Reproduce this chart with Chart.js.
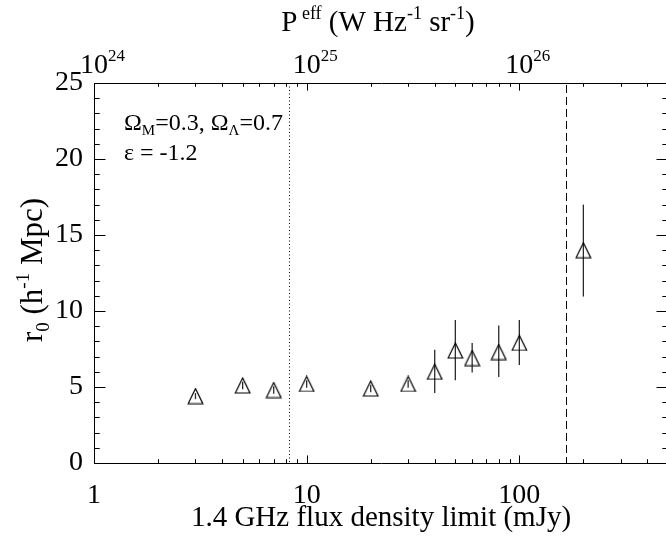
<!DOCTYPE html>
<html><head><meta charset="utf-8">
<script src="https://cdn.jsdelivr.net/npm/chart.js@4/dist/chart.umd.min.js"></script>
<style>html,body{margin:0;padding:0;background:#fff;overflow:hidden}</style>
</head><body>
<canvas id="c" width="680" height="540" style="display:block"></canvas>
<script>
// ---- data ----
const fluxLimits = [3, 5, 7, 10, 20, 30, 40, 50, 60, 80, 100, 200];          // mJy
const r0Values   = [4.4, 5.1, 4.8, 5.2, 4.9, 5.2, 6.0, 7.4, 6.9, 7.3, 7.9, 14.0];
const r0Lower    = [4.2, 4.85, 4.55, 4.95, 4.65, 4.95, 4.6, 5.45, 5.95, 5.65, 6.45, 10.95];
const r0Upper    = [4.6, 5.35, 5.05, 5.45, 5.15, 5.45, 7.45, 9.4, 7.9, 9.05, 9.4, 17.0];
const dottedLineFlux = 8.3;
const dashedLineFlux = 165;
const yTickValues = [0, 5, 10, 15, 20, 25];
const bottomTickLabels = ['1', '10', '100'];
const topTickExponents = [24, 25, 26];

const FONT = '"Liberation Serif", "Times New Roman", serif';

function makeTriangle() {
  const c = document.createElement('canvas');
  c.width = 17; c.height = 17;
  const g = c.getContext('2d');
  g.strokeStyle = '#000'; g.lineWidth = 1.2;
  g.beginPath();
  g.moveTo(1.2, 16); g.lineTo(8.5, 1); g.lineTo(15.8, 16); g.closePath();
  g.stroke();
  return c;
}

function drawRich(ctx, parts, x, y, size, align) {
  const fontFor = k => ((k === 'n') ? size : Math.round(size * 0.62)) + 'px ' + FONT;
  let w = 0;
  for (const [t, k] of parts) { ctx.font = fontFor(k); w += ctx.measureText(t).width; }
  let cx = align === 'center' ? x - w / 2 : (align === 'right' ? x - w : x);
  ctx.textAlign = 'left'; ctx.textBaseline = 'alphabetic';
  for (const [t, k] of parts) {
    ctx.font = fontFor(k);
    const dy = k === 'sup' ? -0.42 * size : (k === 'sub' ? 0.22 * size : 0);
    ctx.fillText(t, cx, y + dy);
    cx += ctx.measureText(t).width;
  }
}

const decor = {
  id: 'decor',
  beforeDatasetsDraw(chart) {
    const ctx = chart.ctx, a = chart.chartArea;
    const xs = chart.scales.x, ys = chart.scales.y;
    ctx.save();
    ctx.strokeStyle = '#000'; ctx.lineWidth = 1;
    ctx.setLineDash([1, 2.5]);
    let px = Math.round(xs.getPixelForValue(dottedLineFlux)) + 0.5;
    ctx.beginPath(); ctx.moveTo(px, a.top); ctx.lineTo(px, a.bottom); ctx.stroke();
    ctx.setLineDash([8, 4]);
    px = Math.round(xs.getPixelForValue(dashedLineFlux)) + 0.5;
    ctx.beginPath(); ctx.moveTo(px, a.top + 2); ctx.lineTo(px, a.bottom); ctx.stroke();
    ctx.setLineDash([]);
    ctx.strokeStyle = '#2a2a2a'; ctx.lineWidth = 1.3;
    for (let i = 0; i < fluxLimits.length; i++) {
      const x = xs.getPixelForValue(fluxLimits[i]);
      ctx.beginPath();
      ctx.moveTo(x, ys.getPixelForValue(r0Lower[i]));
      ctx.lineTo(x, ys.getPixelForValue(r0Upper[i]));
      ctx.stroke();
    }
    ctx.restore();
  },
  afterDraw(chart) {
    const ctx = chart.ctx, a = chart.chartArea;
    const xs = chart.scales.x, xt = chart.scales.x2, ys = chart.scales.y;
    ctx.save();
    ctx.strokeStyle = '#000'; ctx.lineWidth = 1;
    const xMaj = 7.6, xMin = 3.8, yMaj = 11.5, yMin = 5.7;
    for (let d = 0; d <= 2; d++) {
      for (let m = 1; m <= 9; m++) {
        const v = m * Math.pow(10, d);
        if (v > xs.max) break;
        const len = m === 1 ? xMaj : xMin;
        const x = Math.round(xs.getPixelForValue(v)) + 0.5;
        ctx.beginPath(); ctx.moveTo(x, a.bottom); ctx.lineTo(x, a.bottom - len); ctx.stroke();
        const xx = Math.round(xt.getPixelForValue(v * 1e24)) + 0.5;
        ctx.beginPath(); ctx.moveTo(xx, a.top); ctx.lineTo(xx, a.top + len); ctx.stroke();
      }
    }
    for (let v = 0; v <= 25; v++) {
      const len = v % 5 === 0 ? yMaj : yMin;
      const y = Math.round(ys.getPixelForValue(v)) + 0.5;
      ctx.beginPath(); ctx.moveTo(a.left, y); ctx.lineTo(a.left + len, y); ctx.stroke();
      ctx.beginPath(); ctx.moveTo(a.right, y); ctx.lineTo(a.right - len, y); ctx.stroke();
    }
    ctx.fillStyle = '#000';
    for (const e of topTickExponents) {
      const x = xt.getPixelForValue(Math.pow(10, e));
      ctx.font = '28px ' + FONT;
      const w10 = ctx.measureText('10').width;
      drawRich(ctx, [['10', 'n'], [String(e), 'sup']], x - w10 / 2, 73, 28, 'left');
    }
    drawRich(ctx, [['P', 'n'], [' eff', 'sup'], [' (W Hz', 'n'], ['-1', 'sup'], [' sr', 'n'], ['-1', 'sup'], [')', 'n']],
             378, 31, 29, 'center');
    drawRich(ctx, [['1.4 GHz flux density limit (mJy)', 'n']], 381, 526, 29, 'center');
    ctx.save();
    ctx.translate(42, 270);
    ctx.rotate(-Math.PI / 2);
    drawRich(ctx, [['r', 'n'], ['0', 'sub'], [' (h', 'n'], ['-1', 'sup'], [' Mpc)', 'n']], 0, 0, 31, 'center');
    ctx.restore();
    drawRich(ctx, [['\u03A9', 'n'], ['M', 'sub'], ['=0.3, \u03A9', 'n'], ['\u039B', 'sub'], ['=0.7', 'n']], 124, 130, 24, 'left');
    drawRich(ctx, [['\u03B5 = -1.2', 'n']], 124, 160, 24, 'left');
    ctx.restore();
  }
};

new Chart(document.getElementById('c'), {
  type: 'scatter',
  data: {
    datasets: [{
      label: 'r0',
      data: fluxLimits.map((f, i) => ({ x: f, y: r0Values[i] })),
      pointStyle: makeTriangle(),
      pointRadius: 8,
      showLine: false
    }]
  },
  options: {
    responsive: false,
    animation: false,
    devicePixelRatio: 1,
    layout: { padding: 0 },
    plugins: { legend: { display: false }, tooltip: { enabled: false } },
    scales: {
      x: {
        type: 'logarithmic', position: 'bottom', min: 1, max: 500,
        afterFit: s => { s.height = 77; s.paddingLeft = 0; s.paddingRight = 0; },
        border: { display: true, color: '#000', width: 1 },
        grid: { display: true, drawOnChartArea: false, drawTicks: false },
        ticks: {
          autoSkip: false, maxRotation: 0, padding: 16, color: '#000',
          font: { family: FONT, size: 28 },
          callback: v => {
            const i = [1, 10, 100].indexOf(v);
            return i >= 0 ? bottomTickLabels[i] : '';
          }
        }
      },
      x2: {
        type: 'logarithmic', position: 'top', min: 1e24, max: 5e26,
        afterFit: s => { s.height = 83; s.paddingLeft = 0; s.paddingRight = 0; },
        border: { display: true, color: '#000', width: 1 },
        grid: { display: true, drawOnChartArea: false, drawTicks: false },
        ticks: { display: false }
      },
      y: {
        type: 'linear', position: 'left', min: 0, max: 25,
        afterFit: s => { s.width = 94; },
        border: { display: true, color: '#000', width: 1 },
        grid: { display: true, drawOnChartArea: false, drawTicks: false },
        afterBuildTicks: s => { s.ticks = yTickValues.map(v => ({ value: v })); },
        ticks: {
          padding: 11, color: '#000', font: { family: FONT, size: 28 },
          callback: v => String(v)
        }
      },
      y2: {
        type: 'linear', position: 'right', min: 0, max: 25,
        afterFit: s => { s.width = 12; },
        border: { display: true, color: '#000', width: 1 },
        grid: { display: true, drawOnChartArea: false, drawTicks: false },
        ticks: { display: false }
      }
    }
  },
  plugins: [decor]
});
</script>
</body></html>
